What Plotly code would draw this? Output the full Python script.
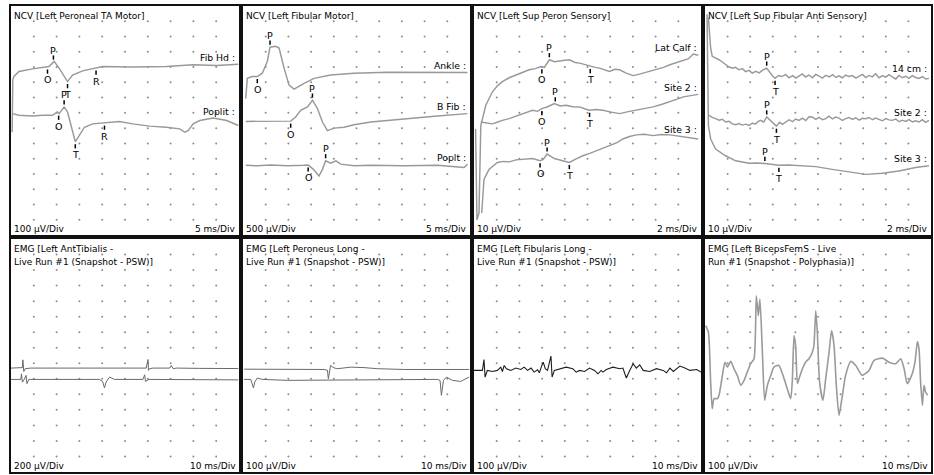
import numpy as np
import plotly.graph_objects as go

W, H = 934, 475
NX, NY = 10, 15  # divisions per panel

# ---------------- Panel 1: NCV [Left Peroneal TA Motor] ----------------
ta_fibhd_t = [0.05, 0.08, 0.13, 0.35, 0.94, 1.53, 1.67, 1.89, 2.11, 2.48, 2.70, 3.14, 3.73, 4.02, 5.34, 6.81, 7.99, 9.02, 9.97]
ta_fibhd_v = [6.73, 10.2, 10.38, 10.71, 10.88, 10.97, 11.04, 11.37, 10.93, 10.05, 10.48, 10.75, 10.93, 11.04, 11.0, 11.04, 11.15, 11.1, 11.19]
ta_fibhd_mk = ["O", "P", "T", "R"]
ta_fibhd_mt = [1.60, 1.86, 2.48, 3.73]

ta_poplit_t = [0.06, 0.35, 0.94, 1.38, 1.82, 2.04, 2.11, 2.33, 2.48, 2.63, 2.82, 2.99, 3.22, 3.58, 4.10, 4.76, 5.34, 6.08, 6.81, 7.40, 7.62, 7.77, 7.99, 8.28, 8.87, 9.46, 9.97]
ta_poplit_v = [7.95, 7.84, 7.79, 7.84, 7.84, 8.06, 7.95, 8.39, 8.06, 7.17, 6.11, 6.51, 7.06, 7.28, 7.33, 7.44, 7.28, 7.13, 7.06, 6.95, 6.73, 6.84, 7.28, 7.50, 7.66, 7.50, 7.17]
ta_poplit_mk = ["O", "P", "T", "R"]
ta_poplit_mt = [2.09, 2.33, 2.82, 4.10]

# ---------------- Panel 2: NCV [Left Fibular Motor] ----------------
fm_ankle_t = [0.12, 0.19, 0.41, 0.63, 0.85, 1.07, 1.19, 1.44, 1.59, 1.81, 2.03, 2.25, 2.69, 3.13, 3.86, 4.89, 6.36, 7.83, 9.89]
fm_ankle_v = [8.94, 10.26, 10.38, 10.38, 10.60, 11.37, 12.30, 12.36, 12.25, 10.93, 9.82, 9.56, 9.93, 10.26, 10.48, 10.60, 10.66, 10.66, 10.64]
fm_ankle_mk = ["O", "P"]
fm_ankle_mt = [0.63, 1.19]

fm_bfib_t = [0.12, 1.22, 1.96, 2.10, 2.32, 2.54, 2.84, 3.06, 3.28, 3.50, 3.72, 4.01, 4.45, 4.89, 5.63, 7.10, 8.56, 9.89]
fm_bfib_v = [7.44, 7.44, 7.44, 7.46, 7.73, 8.17, 8.39, 8.83, 8.28, 7.40, 6.84, 7.00, 7.06, 7.22, 7.40, 7.62, 7.79, 7.95]
fm_bfib_mk = ["O", "P"]
fm_bfib_mt = [2.10, 3.06]

fm_poplt_t = [0.12, 0.63, 1.22, 1.96, 2.69, 2.87, 3.10, 3.35, 3.50, 3.64, 3.86, 4.09, 4.31, 4.89, 5.63, 7.10, 8.56, 9.74, 9.89]
fm_poplt_v = [4.57, 4.53, 4.59, 4.53, 4.57, 4.59, 4.30, 3.86, 4.30, 4.86, 4.70, 4.86, 4.64, 4.53, 4.57, 4.53, 4.57, 4.42, 4.64]
fm_poplt_mk = ["O", "P"]
fm_poplt_mt = [2.87, 3.64]

# ---------------- Panel 3: NCV [Left Sup Peron Sensory] ----------------
sp_latcalf_t = [0.07, 0.13, 0.22, 0.30, 0.52, 0.81, 1.05, 1.25, 1.55, 1.84, 2.14, 2.43, 2.70, 2.95, 3.10,
                3.32, 3.55, 3.76, 4.00, 4.20, 4.45, 4.65, 4.90, 5.12, 5.35, 5.53, 5.75, 5.97, 6.20, 6.42,
                6.70, 7.01, 7.25, 7.45, 7.75, 8.04, 8.35, 8.63, 8.93, 9.22, 9.45, 9.66, 9.88]
sp_latcalf_v = [6.95, 0.99, 1.44, 7.17, 8.50, 9.38, 9.80, 10.04, 10.30, 10.48, 10.62, 10.82, 10.90, 11.04, 10.98,
                11.48, 11.35, 11.41, 11.45, 11.48, 11.30, 11.26, 11.15, 11.04, 10.98, 10.93, 10.80, 10.71, 10.85, 10.82,
                10.60, 10.44, 10.52, 10.60, 10.70, 10.82, 10.98, 11.15, 11.30, 11.48, 11.55, 11.85, 11.77]
sp_latcalf_mk = ["O", "P", "T"]
sp_latcalf_mt = [2.99, 3.32, 5.12]

sp_site2_t = [0.30, 0.55, 0.81, 1.05, 1.25, 1.55, 1.99, 2.30, 2.58, 2.80, 2.99, 3.25, 3.54, 3.80, 4.06,
              4.35, 4.65, 4.90, 5.09, 5.40, 5.68, 6.05, 6.42, 6.80, 7.15, 7.50, 7.89, 8.25, 8.63, 8.95,
              9.22, 9.55, 9.88]
sp_site2_v = [7.40, 7.35, 7.28, 7.40, 7.51, 7.62, 7.84, 8.00, 8.17, 8.10, 8.28, 8.40, 8.61, 8.45, 8.50,
              8.40, 8.39, 8.25, 8.17, 8.22, 8.17, 8.05, 7.95, 8.08, 8.17, 8.25, 8.39, 8.55, 8.72, 8.90,
              9.05, 9.15, 9.21]
sp_site2_mk = ["O", "P", "T"]
sp_site2_mt = [2.99, 3.58, 5.09]

sp_site3_t = [0.34, 0.44, 0.66, 1.03, 1.30, 1.55, 1.85, 2.14, 2.58, 2.91, 3.05, 3.22, 3.54, 3.91, 4.20,
              4.50, 4.79, 5.10, 5.38, 5.70, 5.97, 6.30, 6.56, 6.85, 7.15, 7.50, 7.89, 8.25, 8.63, 9.00,
              9.37, 9.88]
sp_site3_v = [1.44, 3.64, 4.30, 4.75, 4.82, 4.79, 4.92, 4.97, 5.01, 4.86, 4.95, 5.30, 5.01, 4.86, 4.75,
              4.98, 5.19, 5.35, 5.52, 5.70, 5.85, 6.05, 6.29, 6.45, 6.56, 6.60, 6.51, 6.58, 6.56, 6.48,
              6.40, 6.29]
sp_site3_mk = ["O", "P", "T"]
sp_site3_mt = [2.91, 3.22, 4.20]

# ---------------- Panel 4: NCV [Left Sup Fibular Anti Sensory] ----------------
sf_14cm_t = [0.15, 0.25, 0.32, 0.45, 0.62, 0.75, 0.91, 1.05, 1.21, 1.35, 1.50, 1.65, 1.80, 1.95, 2.09,
             2.25, 2.40, 2.55, 2.73, 2.82, 2.91, 3.00, 3.10, 3.25, 3.40, 3.57, 3.72, 3.88, 4.02, 4.16,
             4.30, 4.45, 4.60, 4.75, 4.90, 5.05, 5.20, 5.34, 5.50, 5.65, 5.80, 5.93, 6.08, 6.22, 6.37,
             6.52, 6.68, 6.82, 6.97, 7.11, 7.26, 7.40, 7.55, 7.70, 7.85, 8.00, 8.14, 8.29, 8.44, 8.58,
             8.73, 8.88, 9.02, 9.17, 9.32, 9.47, 9.62, 9.77, 9.91]
sf_14cm_v = [14.24, 12.25, 11.70, 11.62, 11.48, 11.35, 11.15, 11.02, 10.93, 10.98, 10.82, 10.90, 10.70, 10.78, 10.60,
             10.72, 10.62, 10.80, 10.93, 10.75, 10.53, 10.40, 10.26, 10.45, 10.38, 10.50, 10.30, 10.44, 10.28, 10.42,
             10.55, 10.35, 10.48, 10.30, 10.52, 10.40, 10.28, 10.46, 10.36, 10.50, 10.32, 10.42, 10.30, 10.48, 10.38,
             10.44, 10.28, 10.40, 10.52, 10.31, 10.45, 10.36, 10.56, 10.30, 10.44, 10.34, 10.50, 10.35, 10.22, 10.45,
             10.30, 10.40, 10.26, 10.44, 10.32, 10.26, 10.38, 10.22, 10.26]
sf_14cm_mk = ["P", "T"]
sf_14cm_mt = [2.73, 3.10]

sf_site2_t = [0.18, 0.32, 0.47, 0.62, 0.77, 0.91, 1.06, 1.21, 1.36, 1.50, 1.65, 1.80, 1.95, 2.09, 2.24,
              2.36, 2.46, 2.60, 2.73, 2.82, 2.91, 3.03, 3.16, 3.30, 3.43, 3.57, 3.72, 3.87, 4.01, 4.16,
              4.31, 4.46, 4.60, 4.75, 4.90, 5.05, 5.20, 5.34, 5.49, 5.64, 5.78, 5.93, 6.08, 6.23, 6.37,
              6.52, 6.67, 6.82, 6.96, 7.11, 7.26, 7.41, 7.55, 7.70, 7.85, 8.00, 8.14, 8.29, 8.44, 8.59,
              8.73, 8.88, 9.03, 9.18, 9.32, 9.47, 9.62, 9.76, 9.91]
sf_site2_v = [7.84, 7.70, 7.62, 7.52, 7.58, 7.40, 7.45, 7.28, 7.22, 7.30, 7.20, 7.26, 7.18, 7.32, 7.28,
              7.45, 7.51, 7.40, 7.73, 7.60, 7.44, 7.30, 7.13, 7.38, 7.25, 7.40, 7.55, 7.42, 7.60, 7.51,
              7.66, 7.50, 7.75, 7.73, 7.58, 7.70, 7.55, 7.62, 7.78, 7.60, 7.72, 7.66, 7.50, 7.62, 7.70,
              7.57, 7.68, 7.52, 7.64, 7.62, 7.70, 7.55, 7.66, 7.57, 7.48, 7.62, 7.54, 7.51, 7.60, 7.42,
              7.52, 7.44, 7.56, 7.40, 7.48, 7.40, 7.55, 7.38, 7.51]
sf_site2_mk = ["P", "T"]
sf_site2_mt = [2.73, 3.16]

sf_site3_t = [0.09, 0.15, 0.25, 0.47, 0.91, 1.36, 1.95, 2.30, 2.65, 3.00, 3.27, 3.70, 4.16, 4.90, 5.63, 6.37, 7.11, 7.85, 8.58, 9.32, 9.91]
sf_site3_v = [14.46, 7.17, 6.29, 5.63, 5.19, 4.86, 4.70, 4.72, 4.68, 4.62, 4.57, 4.58, 4.53, 4.48, 4.30, 4.12, 3.97, 4.04, 4.19, 4.42, 4.53]
sf_site3_mk = ["P", "T"]
sf_site3_mt = [2.65, 3.27]

# ---------------- Panel 5: EMG [Left AntTibialis] ----------------
at_up_t = [0.0, 0.43, 0.50, 0.52, 0.56, 0.62, 0.87, 2.41, 3.88, 5.79, 5.93, 6.01, 6.03, 6.08, 6.23, 6.96, 7.03, 7.11, 7.25, 8.28, 9.97]
at_up_v = [6.69, 6.69, 6.72, 7.22, 6.47, 6.65, 6.69, 6.69, 6.69, 6.69, 6.69, 7.24, 6.54, 6.65, 6.69, 6.69, 6.86, 6.65, 6.69, 6.67, 6.66]
at_lo_t = [0.0, 0.43, 0.46, 0.50, 0.58, 0.66, 0.70, 0.78, 0.87, 2.41, 3.88, 4.02, 4.10, 4.17, 4.32, 4.54, 4.76, 5.79, 5.86, 5.90, 6.05, 6.23, 8.28, 9.97]
at_lo_v = [5.96, 5.96, 6.32, 5.79, 5.96, 6.22, 5.69, 5.96, 5.96, 5.96, 5.96, 5.83, 5.41, 5.79, 6.11, 5.96, 5.96, 5.96, 6.26, 5.83, 5.96, 5.96, 5.96, 5.93]

# ---------------- Panel 6: EMG [Left Peroneus Long] ----------------
pl_up_t = [0.05, 1.96, 3.57, 3.72, 3.76, 3.86, 4.01, 4.16, 4.75, 5.33, 5.92, 7.10, 8.56, 9.96]
pl_up_v = [6.62, 6.60, 6.60, 6.55, 6.00, 6.86, 6.70, 6.65, 6.75, 6.72, 6.65, 6.60, 6.60, 6.60]
pl_lo_t = [0.05, 0.34, 0.46, 0.52, 0.63, 0.85, 1.96, 3.57, 5.33, 7.10, 8.56, 8.68, 8.74, 8.83, 8.97, 9.22, 9.59, 9.96]
pl_lo_v = [5.96, 5.96, 5.41, 5.80, 6.05, 5.96, 5.90, 5.92, 5.96, 5.96, 5.96, 5.90, 4.94, 5.90, 6.11, 5.90, 5.83, 6.11]

# ---------------- Panel 7: EMG [Left Fibularis Long] ----------------
fl_t = [0.0, 0.37, 0.44, 0.49, 0.59, 0.81, 1.03, 1.18, 1.25, 1.33, 1.43, 1.62, 1.84, 2.06, 2.21,
        2.36, 2.51, 2.65, 2.80, 2.88, 2.99, 3.05, 3.14, 3.24, 3.39, 3.44, 3.54, 3.76, 4.06, 4.35,
        4.50, 4.65, 4.87, 5.09, 5.31, 5.46, 5.60, 5.68, 5.83, 6.12, 6.42, 6.56, 6.71, 6.86, 7.01,
        7.15, 7.30, 7.45, 7.74, 8.04, 8.33, 8.48, 8.63, 8.78, 8.92, 9.07, 9.29, 9.51, 9.81, 10.0]
fl_v = [6.54, 6.54, 7.24, 6.11, 6.54, 6.47, 6.54, 6.75, 6.47, 6.86, 6.65, 6.54, 6.69, 6.60, 6.75,
        6.54, 6.69, 6.43, 6.58, 6.39, 6.86, 7.07, 6.65, 6.54, 7.46, 6.11, 6.54, 6.65, 6.75, 6.65,
        6.43, 6.54, 6.47, 6.69, 6.54, 6.32, 6.54, 6.43, 6.60, 6.75, 6.65, 6.69, 6.05, 6.54, 6.97,
        6.69, 6.90, 6.54, 6.47, 6.65, 6.54, 6.39, 6.69, 6.47, 6.65, 6.82, 6.69, 6.54, 6.60, 6.43]

# ---------------- Panel 8: EMG [Left BicepsFemS] ----------------
bf_t = [0.03, 0.15, 0.25, 0.32, 0.40, 0.55, 0.62, 0.77, 0.88, 0.99, 1.14, 1.28, 1.43, 1.58, 1.73,
        1.87, 2.02, 2.17, 2.27, 2.36, 2.43, 2.54, 2.64, 2.76, 2.91, 3.05, 3.27, 3.50, 3.64, 3.79,
        3.86, 3.94, 4.01, 4.09, 4.16, 4.31, 4.45, 4.60, 4.75, 4.82, 4.90, 4.97, 5.07, 5.22, 5.34,
        5.49, 5.60, 5.71, 5.81, 5.93, 6.08, 6.22, 6.45, 6.67, 6.96, 7.26, 7.48, 7.85, 8.14, 8.44,
        8.66, 8.81, 8.95, 9.17, 9.29, 9.40, 9.47, 9.54, 9.62, 9.69, 9.76, 9.85]
bf_v = [9.42, 9.00, 5.79, 4.08, 4.72, 4.72, 4.94, 6.22, 7.07, 6.75, 7.12, 6.65, 6.22, 5.58, 5.90,
        6.43, 6.97, 7.29, 11.35, 10.06, 11.13, 7.71, 4.62, 5.58, 6.22, 6.75, 6.86, 6.00, 5.36, 4.72,
        5.79, 8.78, 8.14, 5.69, 6.00, 6.65, 7.07, 7.29, 7.71, 8.14, 10.38, 9.00, 5.79, 4.62, 6.00,
        7.71, 9.10, 8.14, 5.58, 3.65, 4.94, 6.22, 7.12, 6.86, 6.22, 6.54, 7.18, 7.33, 7.07, 6.97,
        7.29, 6.65, 5.69, 6.32, 7.07, 8.40, 7.93, 5.79, 4.29, 5.58, 5.15, 4.94]

# ---------------- Panel texts ----------------
titles = [
    ["NCV [Left Peroneal TA Motor]"],
    ["NCV [Left Fibular Motor]"],
    ["NCV [Left Sup Peron Sensory]"],
    ["NCV [Left Sup Fibular Anti Sensory]"],
    ["EMG [Left AntTibialis -", "Live Run #1 (Snapshot - PSW)]"],
    ["EMG [Left Peroneus Long -", "Live Run #1 (Snapshot - PSW)]"],
    ["EMG [Left Fibularis Long -", "Live Run #1 (Snapshot - PSW)]"],
    ["EMG [Left BicepsFemS - Live", "Run #1 (Snapshot - Polyphasia)]"],
]
amp_labels = ["100 μV/Div", "500 μV/Div", "10 μV/Div", "10 μV/Div",
              "200 μV/Div", "100 μV/Div", "100 μV/Div", "100 μV/Div"]
time_labels = ["5 ms/Div", "5 ms/Div", "2 ms/Div", "2 ms/Div",
               "10 ms/Div", "10 ms/Div", "10 ms/Div", "10 ms/Div"]

NCV_COL = "#999999"
panels = [
    [("Fib Hd :", ta_fibhd_t, ta_fibhd_v, ta_fibhd_mk, ta_fibhd_mt),
     ("Poplit :", ta_poplit_t, ta_poplit_v, ta_poplit_mk, ta_poplit_mt)],
    [("Ankle :", fm_ankle_t, fm_ankle_v, fm_ankle_mk, fm_ankle_mt),
     ("B Fib :", fm_bfib_t, fm_bfib_v, fm_bfib_mk, fm_bfib_mt),
     ("Poplt :", fm_poplt_t, fm_poplt_v, fm_poplt_mk, fm_poplt_mt)],
    [("Lat Calf :", sp_latcalf_t, sp_latcalf_v, sp_latcalf_mk, sp_latcalf_mt),
     ("Site 2 :", sp_site2_t, sp_site2_v, sp_site2_mk, sp_site2_mt),
     ("Site 3 :", sp_site3_t, sp_site3_v, sp_site3_mk, sp_site3_mt)],
    [("14 cm :", sf_14cm_t, sf_14cm_v, sf_14cm_mk, sf_14cm_mt),
     ("Site 2 :", sf_site2_t, sf_site2_v, sf_site2_mk, sf_site2_mt),
     ("Site 3 :", sf_site3_t, sf_site3_v, sf_site3_mk, sf_site3_mt)],
]
emg_traces = [
    [(at_up_t, at_up_v, "#6a6a6a", 1.0, "linear"), (at_lo_t, at_lo_v, "#6a6a6a", 1.0, "linear")],
    [(pl_up_t, pl_up_v, "#6a6a6a", 1.0, "linear"), (pl_lo_t, pl_lo_v, "#6a6a6a", 1.0, "linear")],
    [(fl_t, fl_v, "#1e1e1e", 1.1, "linear")],
    [(bf_t, bf_v, "#9a9a9a", 1.6, "spline")],
]

# panel frames in pixels (left, right) and (top, bottom)
cols_px = [(11, 239), (243, 470), (474, 701), (705, 931)]
rows_px = [(6, 235), (239, 472)]

FONT = "Tahoma, Verdana, 'DejaVu Sans', sans-serif"
FS = 9

fig = go.Figure()
annotations = []

gx, gy = np.meshgrid(np.arange(1, NX), np.arange(1, NY))
gx = gx.ravel()
gy = gy.ravel()

for i in range(8):
    r, c = divmod(i, 4)
    n = "" if i == 0 else str(i + 1)
    xa, ya = "x" + n, "y" + n
    (x0, x1), (y0, y1) = cols_px[c], rows_px[r]
    fig.update_layout(**{
        "xaxis" + n: dict(domain=[x0 / W, x1 / W], range=[0, NX], anchor=ya,
                          showgrid=False, zeroline=False, showticklabels=False, ticks="",
                          showline=True, mirror=True, linecolor="#111", linewidth=2, fixedrange=True),
        "yaxis" + n: dict(domain=[1 - y1 / H, 1 - y0 / H], range=[0, NY], anchor=xa,
                          showgrid=False, zeroline=False, showticklabels=False, ticks="",
                          showline=True, mirror=True, linecolor="#111", linewidth=2, fixedrange=True),
    })
    # dotted division grid
    fig.add_trace(go.Scatter(x=gx, y=gy, xaxis=xa, yaxis=ya, mode="markers",
                             marker=dict(size=2, color="#8c8c8c"), hoverinfo="skip"))

    if r == 0:
        for lbl, t, v, mk, mt in panels[c]:
            t = np.asarray(t); v = np.asarray(v)
            fig.add_trace(go.Scatter(x=t, y=v, xaxis=xa, yaxis=ya, mode="lines",
                                     line=dict(color=NCV_COL, width=1.45), hoverinfo="skip"))
            my = np.interp(mt, t, v)
            is_p = np.array([m == "P" for m in mk])
            tick_y = np.where(is_p, my + 0.3, my - 0.3)
            fig.add_trace(go.Scatter(x=mt, y=tick_y, xaxis=xa, yaxis=ya, mode="markers",
                                     marker=dict(symbol="line-ns", size=3, color="#000",
                                                 line=dict(color="#000", width=1.5)),
                                     hoverinfo="skip"))
            for m, xm, ym, p in zip(mk, mt, my, is_p):
                annotations.append(dict(x=xm, y=ym, xref=xa, yref=ya, text=m, showarrow=False,
                                        yshift=12 if p else -13,
                                        font=dict(family=FONT, size=9.5, color="#000")))
            # channel label at right end, just above the trace
            ly = v[t > 8.8].max()
            annotations.append(dict(x=1, y=ly, xref=xa + " domain", yref=ya, text=lbl,
                                    showarrow=False, xanchor="right", yanchor="middle",
                                    xshift=-2, yshift=7,
                                    font=dict(family=FONT, size=FS + 0.3, color="#000")))
    else:
        for t, v, col, w, shp in emg_traces[c]:
            fig.add_trace(go.Scatter(x=t, y=v, xaxis=xa, yaxis=ya, mode="lines",
                                     line=dict(color=col, width=w, shape=shp, smoothing=0.6),
                                     hoverinfo="skip"))

    # titles
    for k, line in enumerate(titles[i]):
        annotations.append(dict(x=0, y=1, xref=xa + " domain", yref=ya + " domain", text=line,
                                showarrow=False, xanchor="left", yanchor="middle",
                                xshift=1, yshift=-9.5 - 13.4 * k,
                                font=dict(family=FONT, size=FS, color="#000")))
    annotations.append(dict(x=0, y=0, xref=xa + " domain", yref=ya + " domain", text=amp_labels[i],
                            showarrow=False, xanchor="left", yanchor="middle", xshift=1, yshift=6,
                            font=dict(family=FONT, size=FS, color="#000")))
    annotations.append(dict(x=1, y=0, xref=xa + " domain", yref=ya + " domain", text=time_labels[i],
                            showarrow=False, xanchor="right", yanchor="middle", xshift=-1, yshift=6,
                            font=dict(family=FONT, size=FS, color="#000")))

fig.update_layout(width=W, height=H, margin=dict(l=0, r=0, t=0, b=0),
                  paper_bgcolor="white", plot_bgcolor="white", showlegend=False,
                  annotations=annotations)

fig.write_html("out.html", config={"displayModeBar": False, "staticPlot": True},
               post_script="document.body.style.margin='0px';")
